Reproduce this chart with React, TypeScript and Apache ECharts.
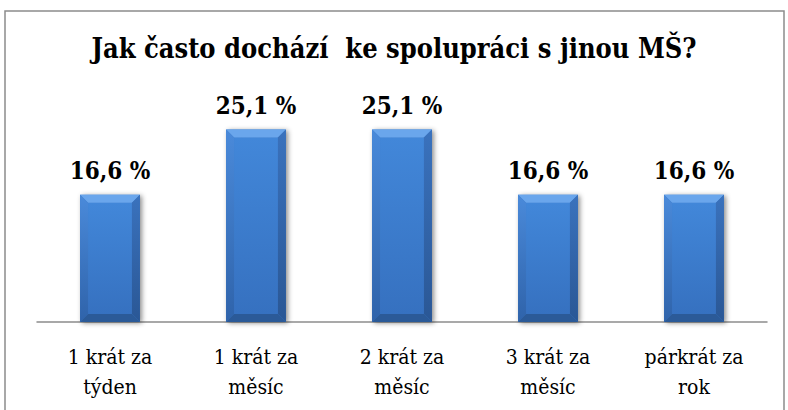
import React, { useEffect, useRef } from "react";
import * as echarts from "echarts";

const categories = ["1 krát za\ntýden", "1 krát za\nměsíc", "2 krát za\nměsíc", "3 krát za\nměsíc", "párkrát za\nrok"];
const values = [16.6, 25.1, 25.1, 16.6, 16.6];
const titleText = "Jak často dochází  ke spolupráci s jinou MŠ?";
const serif = "DejaVu Serif Condensed";

export default function App() {
  const ref = useRef<HTMLDivElement>(null);
  useEffect(() => {
    document.body.style.margin = "0";
    const chart = echarts.init(ref.current!, null, { renderer: "svg" });
    chart.setOption({
      animation: false,
      backgroundColor: "#ffffff",
      title: {
        text: titleText,
        left: "center",
        top: 30,
        textStyle: { fontFamily: serif, fontSize: 27, fontWeight: "bold", color: "#000" },
      },
      graphic: [
        {
          type: "rect",
          shape: { x: 5, y: 11, width: 779, height: 420 },
          style: { fill: "none", stroke: "#8c8c8c", lineWidth: 1.5 },
          silent: true,
        },
      ],
      grid: { left: 37, right: 21, top: 92, bottom: 88 },
      xAxis: {
        type: "category",
        data: categories,
        axisLine: { lineStyle: { color: "#8c8c8c", width: 1.5 } },
        axisTick: { show: false },
        axisLabel: { fontFamily: serif, fontSize: 21, color: "#000", lineHeight: 30, margin: 20 },
      },
      yAxis: { type: "value", min: 0, max: 30, show: false, splitLine: { show: false } },
      series: [
        {
          type: "custom",
          data: values.map((v, i) => [i, v]),
          renderItem: (params: any, api: any) => {
            const idx = api.value(0);
            const val = api.value(1);
            const base = api.coord([idx, 0]);
            const top = api.coord([idx, val]);
            const w = api.size([1, 0])[0] * 0.41;
            const x0 = base[0] - w / 2;
            const x1 = base[0] + w / 2;
            const y0 = top[1];
            const y1 = base[1];
            const b = 8;
            return {
              type: "group",
              children: [
                {
                  type: "rect",
                  shape: { x: x0, y: y0, width: w, height: y1 - y0 },
                  style: {
                    fill: "#3a78c6",
                    shadowBlur: 5,
                    shadowColor: "rgba(0,0,0,0.45)",
                    shadowOffsetX: 2,
                    shadowOffsetY: 1,
                  },
                },
                {
                  type: "rect",
                  shape: { x: x0 + b, y: y0 + b, width: w - 2 * b, height: y1 - y0 - 2 * b },
                  style: {
                    fill: new echarts.graphic.LinearGradient(0, 0, 0, 1, [
                      { offset: 0, color: "#4287d9" },
                      { offset: 1, color: "#3671c0" },
                    ]),
                  },
                },
                {
                  type: "polygon",
                  shape: { points: [[x0, y0], [x1, y0], [x1 - b, y0 + b], [x0 + b, y0 + b]] },
                  style: { fill: "#6aa6ec" },
                },
                {
                  type: "polygon",
                  shape: { points: [[x0, y0], [x0 + b, y0 + b], [x0 + b, y1 - b], [x0, y1]] },
                  style: {
                    fill: new echarts.graphic.LinearGradient(0, 0, 0, 1, [
                      { offset: 0, color: "#4a8ada" },
                      { offset: 1, color: "#2f63aa" },
                    ]),
                  },
                },
                {
                  type: "polygon",
                  shape: { points: [[x1, y0], [x1, y1], [x1 - b, y1 - b], [x1 - b, y0 + b]] },
                  style: {
                    fill: new echarts.graphic.LinearGradient(0, 0, 0, 1, [
                      { offset: 0, color: "#3a72bd" },
                      { offset: 1, color: "#2a5795" },
                    ]),
                  },
                },
                {
                  type: "polygon",
                  shape: { points: [[x0, y1], [x0 + b, y1 - b], [x1 - b, y1 - b], [x1, y1]] },
                  style: { fill: "#2b5a98" },
                },
                {
                  type: "text",
                  style: {
                    x: base[0],
                    y: y0 - 12,
                    text: String(val).replace(".", ",") + " %",
                    align: "center",
                    verticalAlign: "bottom",
                    fill: "#000",
                    fontFamily: serif,
                    fontSize: 24,
                    fontWeight: "bold",
                  },
                },
              ],
            };
          },
        },
      ],
    });
    return () => chart.dispose();
  }, []);
  return <div ref={ref} style={{ width: 788, height: 410 }} />;
}
